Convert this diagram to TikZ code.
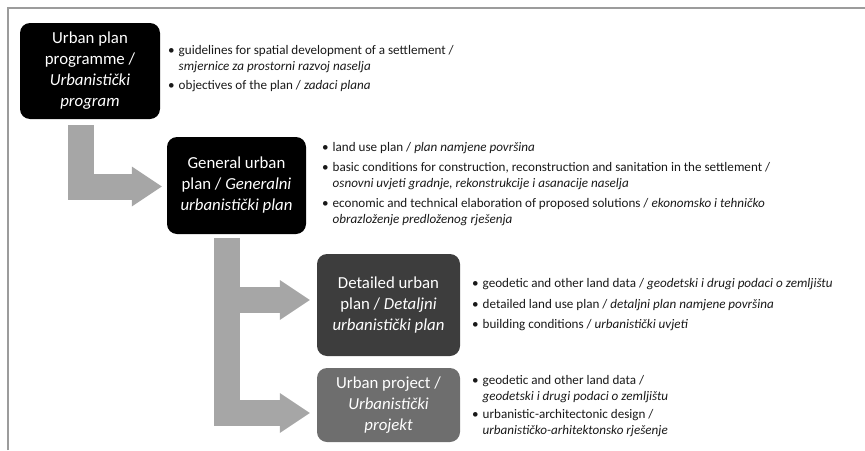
\documentclass[tikz,border=0pt]{standalone}
\usepackage{fontspec}
\setmainfont{Carlito}
\usepackage{xcolor}
\usetikzlibrary{arrows.meta}
\usetikzlibrary{positioning}

\definecolor{arrowgray}{HTML}{A6A6A6}
\definecolor{darkbox}{HTML}{3D3D3D}
\definecolor{midbox}{HTML}{6E6E6E}
\definecolor{framegray}{HTML}{9C9C9C}

\begin{document}
\begin{tikzpicture}[x=1pt, y=-1pt,
    plan/.style={rounded corners=10pt, text=white, align=center, inner sep=0pt,
      font=\fontsize{16.8}{21}\selectfont},
    notes/.style={anchor=base west, inner sep=0pt, text=black!90,
      font=\fontsize{13.1}{16}\selectfont},
    blockarrow/.style={draw=arrowgray, line width=26pt,
      -{Triangle[length=30pt 0 0, width=40pt 0 0, line width=0pt]}}]
\useasboundingbox (0,0) rectangle (865,450);
\draw[framegray, line width=1.5pt] (8,450) -- (8,8) -- (865,8);

% plans
\node[plan, fill=black, minimum width=140pt, minimum height=96pt] (prog) at (90,71)
  {Urban plan\\ programme /\\ \textit{Urbanistički}\\ \textit{program}};
\node[plan, fill=black, minimum width=139pt, minimum height=97pt] (general) at (236.5,185.5)
  {General urban\\ plan / \textit{Generalni}\\ \textit{urbanistički plan}};
\node[plan, fill=darkbox, minimum width=143pt, minimum height=102pt] (detailed) at (388.5,305)
  {Detailed urban\\ plan / \textit{Detaljni}\\ \textit{urbanistički plan}};
\node[plan, fill=midbox, minimum width=143pt, minimum height=74pt] (project) at (388.5,405)
  {Urban project /\\ \textit{Urbanistički}\\ \textit{projekt}};

% contents
\node[notes] (progtext) at (168,54) {\begin{tabular}[t]{@{}l@{\hspace{4pt}}l@{}}
  \textbullet & guidelines for spatial development of a settlement /\\
  & \textit{smjernice za prostorni razvoj naselja}\\[3pt]
  \textbullet & objectives of the plan / \textit{zadaci plana}
  \end{tabular}};
\node[notes] (generaltext) at (322,151) {\begin{tabular}[t]{@{}l@{\hspace{4pt}}l@{}}
  \textbullet & land use plan / \textit{plan namjene površina}\\[4pt]
  \textbullet & basic conditions for construction, reconstruction and sanitation in the settlement /\\
  & \textit{osnovni uvjeti gradnje, rekonstrukcije i asanacije naselja}\\[4pt]
  \textbullet & economic and technical elaboration of proposed solutions / \textit{ekonomsko i tehničko}\\
  & \textit{obrazloženje predloženog rješenja}
  \end{tabular}};
\node[notes] (detailedtext) at (472,287) {\begin{tabular}[t]{@{}l@{\hspace{4pt}}l@{}}
  \textbullet & geodetic and other land data / \textit{geodetski i drugi podaci o zemljištu}\\[5pt]
  \textbullet & detailed land use plan / \textit{detaljni plan namjene površina}\\[4pt]
  \textbullet & building conditions / \textit{urbanistički uvjeti}
  \end{tabular}};
\node[notes] (projecttext) at (472,384) {\begin{tabular}[t]{@{}l@{\hspace{4pt}}l@{}}
  \textbullet & geodetic and other land data /\\
  & \textit{geodetski i drugi podaci o zemljištu}\\[2pt]
  \textbullet & urbanistic-architectonic design /\\
  & \textit{urbanističko-arhitektonsko rješenje}
  \end{tabular}};

% flow
\draw[blockarrow] ([xshift=-9pt,yshift=-6pt]prog.south) |- ([xshift=-5pt,yshift=-1pt]general.west);
\draw[blockarrow] ([xshift=-10pt,yshift=-4pt]general.south) |- ([xshift=-7pt,yshift=5pt]detailed.west);
\draw[blockarrow] ([xshift=-10pt,yshift=-4pt]general.south) |- ([xshift=-7pt,yshift=-8pt]project.west);
\end{tikzpicture}
\end{document}
